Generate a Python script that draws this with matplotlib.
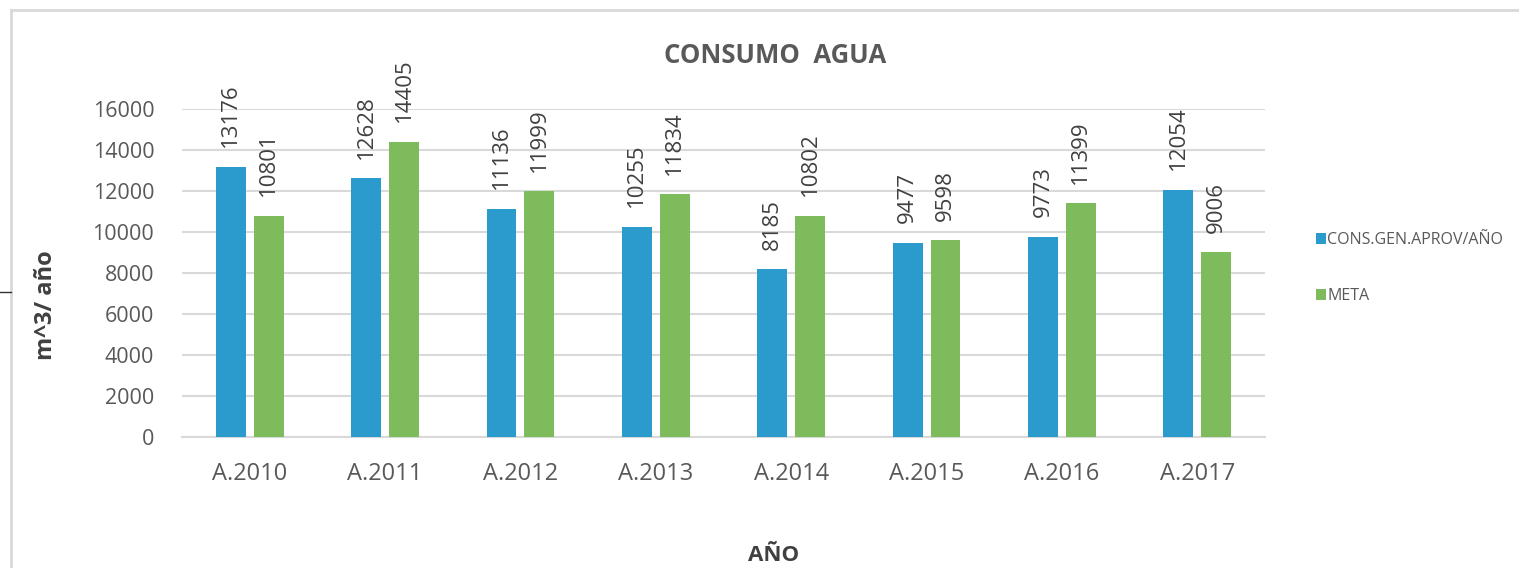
import matplotlib.pyplot as plt
import numpy as np
from matplotlib.lines import Line2D

# données
anios = ['A.2010', 'A.2011', 'A.2012', 'A.2013', 'A.2014', 'A.2015', 'A.2016', 'A.2017']
consumo = [13176, 12628, 11136, 10255, 8185, 9477, 9773, 12054]
meta = [10801, 14405, 11999, 11834, 10802, 9598, 11399, 9006]
yticks = [0, 2000, 4000, 6000, 8000, 10000, 12000, 14000, 16000]

azul = '#2A9BCC'
verde = '#7DBB5C'
gris = '#595959'
grid_col = '#D9D9D9'

plt.rcParams['font.family'] = ['Open Sans', 'DejaVu Sans']

fig = plt.figure(figsize=(15.19, 5.68), dpi=100)
ax = fig.add_axes([0.1198, 0.2306, 0.713, 0.5775])

x = np.arange(len(anios))
w = 0.22
off = 0.14
b1 = ax.bar(x - off, consumo, w, color=azul, label='CONS.GEN.APROV/AÑO', zorder=3)
b2 = ax.bar(x + off, meta, w, color=verde, label='META', zorder=3)

# étiquettes des barres
for bars, vals in ((b1, consumo), (b2, meta)):
    for r, v in zip(bars, vals):
        ax.annotate(str(v), (r.get_x() + r.get_width() / 2, v), xytext=(0, 14),
                    textcoords='offset points', rotation=90, ha='center', va='bottom',
                    fontsize=16, color='#404040', annotation_clip=False)

ax.set_xlim(-0.5, len(anios) - 0.5)
ax.set_ylim(0, 16000)
ax.set_yticks(yticks)
ax.set_yticklabels([str(t) for t in yticks], fontsize=15.5, color=gris)
ax.set_xticks(x)
ax.set_xticklabels(anios, fontsize=17, color=gris)
ax.tick_params(length=0)
ax.tick_params(axis='y', pad=20)
ax.tick_params(axis='x', pad=18)
ax.yaxis.grid(True, color=grid_col, lw=1.5, zorder=0)
for s in ['top', 'right', 'left']:
    ax.spines[s].set_visible(False)
ax.spines['bottom'].set_color(grid_col)
ax.spines['bottom'].set_linewidth(1.5)

fig.text(0.510, 0.903, 'CONSUMO  AGUA', ha='center', va='center', fontsize=18.5,
         fontweight='bold', color=gris)
fig.text(0.030, 0.463, 'm^3/ año', ha='center', va='center', rotation=90,
         fontsize=17, fontweight='bold', color='#404040')
fig.text(0.509, 0.022, 'AÑO', ha='center', va='center', fontsize=16,
         fontweight='bold', color='#404040')

# légende
leg = fig.legend(handles=[b1, b2], loc='center left', bbox_to_anchor=(0.857, 0.528),
                 frameon=False, fontsize=11.5, handlelength=0.6, handleheight=0.6,
                 labelspacing=2.5, handletextpad=0.1)
for t in leg.get_texts():
    t.set_color(gris)

# cadre
fig.add_artist(Line2D([0.0072, 1.0], [0.982, 0.982], color=grid_col, lw=2))
fig.add_artist(Line2D([0.0072, 0.0072], [0.0, 0.982], color=grid_col, lw=2))
fig.add_artist(Line2D([0.0, 0.0072], [0.486, 0.486], color='#333333', lw=1))

fig.savefig('out.png', dpi=100)
